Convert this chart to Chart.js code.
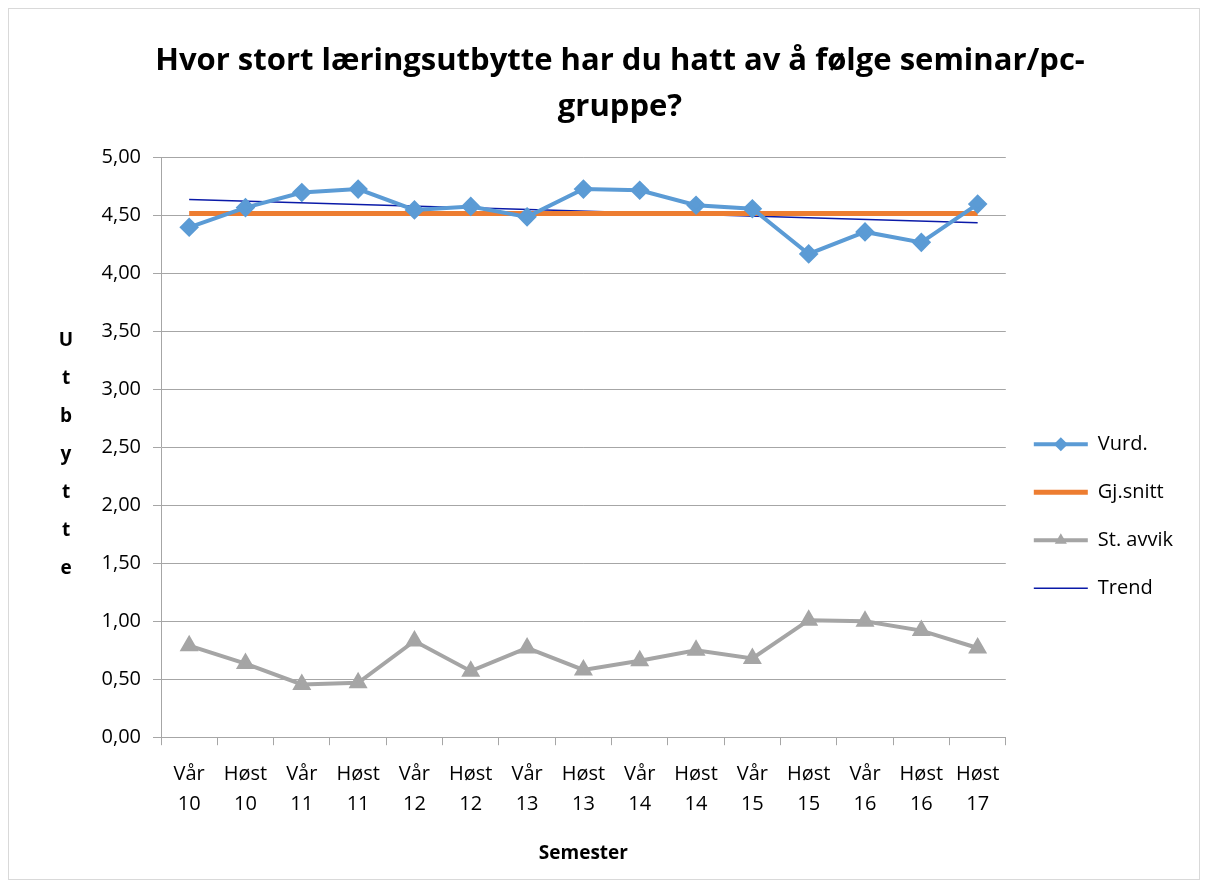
<!DOCTYPE html>
<html>
<head>
<meta charset="utf-8">
<script src="https://cdn.jsdelivr.net/npm/chart.js@4"></script>
<style>
  body { margin: 0; background: #fff; }
  #wrap { position: absolute; left: 8px; top: 8px; width: 1192px; height: 872px; border: 1px solid #d9d9d9; box-sizing: border-box; }
</style>
</head>
<body>
<div id="wrap"><canvas id="chart"></canvas></div>
<script>
// Semesters (two-line tick labels)
const semesters = [
    ['Vår', '10'], ['Høst', '10'], ['Vår', '11'], ['Høst', '11'], ['Vår', '12'],
    ['Høst', '12'], ['Vår', '13'], ['Høst', '13'], ['Vår', '14'], ['Høst', '14'],
    ['Vår', '15'], ['Høst', '15'], ['Vår', '16'], ['Høst', '16'], ['Høst', '17']
];

// Series values
const vurd = [4.40, 4.57, 4.70, 4.73, 4.55, 4.58, 4.49, 4.73, 4.72, 4.59, 4.56, 4.17, 4.36, 4.27, 4.60];
const gjSnitt = [4.52, 4.52, 4.52, 4.52, 4.52, 4.52, 4.52, 4.52, 4.52, 4.52, 4.52, 4.52, 4.52, 4.52, 4.52];
const stAvvik = [0.79, 0.635, 0.455, 0.47, 0.83, 0.57, 0.77, 0.58, 0.66, 0.75, 0.68, 1.01, 1.00, 0.92, 0.77];
// trend line: only its two end points are read, the line spans the gap
const trend = [4.64, null, null, null, null, null, null, null, null, null, null, null, null, null, 4.44];

const yTicks = { min: 0, max: 5, step: 0.5 };

const font = "'Open Sans', 'Noto Sans', sans-serif";

// Stacked letters for the vertical axis title
const stackedTitle = {
    id: 'stackedTitle',
    afterDraw(chart) {
        const ctx = chart.ctx;
        const letters = 'Utbytte'.split('');
        ctx.save();
        ctx.font = 'bold 19px ' + font;
        ctx.fillStyle = '#000';
        ctx.textAlign = 'center';
        ctx.textBaseline = 'middle';
        letters.forEach((ch, i) => ctx.fillText(ch, 57, 332 + i * 38));
        ctx.restore();
    }
};

// put the point markers on top of the legend lines
const legendMarkers = {
    id: 'legendMarkers',
    afterDraw(chart) {
        const legend = chart.legend;
        if (!legend || !legend.legendHitBoxes) return;
        legend.legendHitBoxes.forEach((box, i) => {
            const ds = chart.data.datasets[i];
            if (!ds.pointRadius) return;
            chart.ctx.save();
            chart.ctx.fillStyle = ds.backgroundColor;
            chart.ctx.strokeStyle = ds.borderColor;
            Chart.helpers.drawPoint(chart.ctx, {
                pointStyle: ds.pointStyle,
                radius: ds.pointRadius,
                borderWidth: 0,
                rotation: 0
            }, box.left + 27, box.top + box.height / 2);
            chart.ctx.restore();
        });
    }
};

const ctx = document.getElementById('chart').getContext('2d');
new Chart(ctx, {
    type: 'line',
    data: {
        labels: semesters,
        datasets: [
            {
                label: 'Vurd.',
                data: vurd,
                borderColor: '#5B9BD5',
                backgroundColor: '#5B9BD5',
                borderWidth: 4,
                pointStyle: 'rectRot',
                pointRadius: 7,
                pointHoverRadius: 7,
                tension: 0
            },
            {
                label: 'Gj.snitt',
                data: gjSnitt,
                borderColor: '#ED7D31',
                backgroundColor: '#ED7D31',
                borderWidth: 5,
                pointRadius: 0,
                tension: 0
            },
            {
                label: 'St. avvik',
                data: stAvvik,
                borderColor: '#A5A5A5',
                backgroundColor: '#A5A5A5',
                borderWidth: 4,
                pointStyle: 'triangle',
                pointRadius: 7,
                pointHoverRadius: 7,
                tension: 0
            },
            {
                label: 'Trend',
                data: trend,
                borderColor: '#0A1AA8',
                backgroundColor: '#0A1AA8',
                borderWidth: 1.5,
                pointRadius: 0,
                spanGaps: true,
                tension: 0
            }
        ]
    },
    options: {
        responsive: true,
        maintainAspectRatio: false,
        animation: false,
        layout: { padding: { left: 48, right: 16, top: 0, bottom: 10 } },
        plugins: {
            title: {
                display: true,
                text: ['Hvor stort læringsutbytte har du hatt av å følge seminar/pc-', 'gruppe?'],
                color: '#000',
                font: { family: font, size: 31, weight: 'bold', lineHeight: 1.48 },
                padding: { top: 29, bottom: 28 }
            },
            legend: {
                position: 'right',
                title: { display: true, text: ' ', padding: { top: 140, bottom: 0 } },
                labels: {
                    color: '#000',
                    font: { family: font, size: 20 },
                    usePointStyle: true,
                    pointStyleWidth: 54,
                    boxHeight: 20,
                    padding: 28,
                    generateLabels(chart) {
                        return chart.data.datasets.map((ds, i) => ({
                            text: ds.label,
                            fontColor: '#000',
                            fillStyle: ds.borderColor,
                            strokeStyle: ds.borderColor,
                            lineWidth: ds.borderWidth,
                            pointStyle: 'line',
                            datasetIndex: i
                        }));
                    }
                }
            },
            tooltip: { enabled: false }
        },
        scales: {
            x: {
                offset: true,
                grid: {
                    display: true,
                    drawOnChartArea: false,
                    offset: true,
                    tickLength: 8,
                    color: '#A6A6A6'
                },
                border: { color: '#A6A6A6', width: 1 },
                ticks: {
                    color: '#000',
                    font: { family: font, size: 20, lineHeight: 1.5 },
                    maxRotation: 0,
                    autoSkip: false,
                    padding: 14
                },
                title: {
                    display: true,
                    text: 'Semester',
                    color: '#000',
                    font: { family: font, size: 19, weight: 'bold' },
                    padding: { top: 9, bottom: 4 }
                }
            },
            y: {
                min: yTicks.min,
                max: yTicks.max,
                afterFit(scale) { scale.width = 104; },
                grid: { color: '#A6A6A6', tickLength: 8 },
                border: { color: '#A6A6A6', width: 1 },
                ticks: {
                    stepSize: yTicks.step,
                    color: '#000',
                    font: { family: font, size: 20 },
                    padding: 12,
                    callback: v => v.toFixed(2).replace('.', ',')
                }
            }
        }
    },
    plugins: [stackedTitle, legendMarkers]
});
</script>
</body>
</html>
